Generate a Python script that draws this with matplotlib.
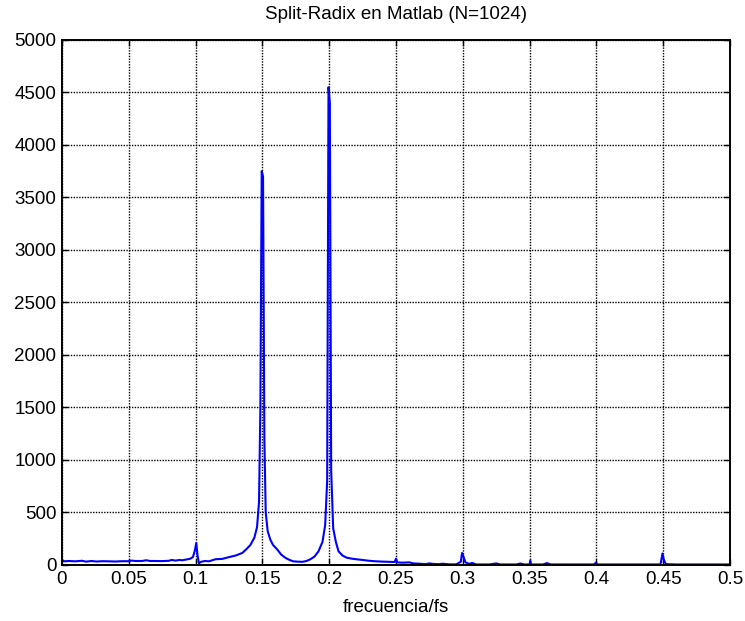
import matplotlib
matplotlib.use('Agg')
from matplotlib import pyplot as plt

# magnitude spectrum (frequency / fs, |X|)
freq = [0.000, 0.002, 0.005, 0.010, 0.015, 0.018, 0.022, 0.026, 0.030, 0.035,
        0.040, 0.045, 0.050, 0.052, 0.055, 0.060, 0.063, 0.066, 0.070, 0.075,
        0.080, 0.082, 0.085, 0.088, 0.090, 0.093, 0.096, 0.098, 0.0995, 0.1005,
        0.1015, 0.1025, 0.104, 0.107, 0.110, 0.115, 0.120, 0.125, 0.130, 0.135,
        0.138, 0.141, 0.144, 0.146, 0.1475, 0.1485, 0.1495, 0.1505, 0.1515, 0.1525,
        0.154, 0.156, 0.158, 0.161, 0.164, 0.167, 0.170, 0.173, 0.176, 0.180,
        0.183, 0.186, 0.189, 0.192, 0.195, 0.197, 0.1985, 0.1995, 0.2005, 0.2015,
        0.203, 0.205, 0.207, 0.210, 0.213, 0.217, 0.220, 0.225, 0.230, 0.235,
        0.240, 0.245, 0.249, 0.250, 0.251, 0.255, 0.260, 0.263, 0.268, 0.272,
        0.275, 0.278, 0.282, 0.285, 0.290, 0.295, 0.2985, 0.2995, 0.3005, 0.302,
        0.305, 0.307, 0.310, 0.320, 0.325, 0.328, 0.340, 0.343, 0.346, 0.350,
        0.3505, 0.351, 0.360, 0.363, 0.366, 0.380, 0.398, 0.3995, 0.401, 0.420,
        0.448, 0.4495, 0.4505, 0.452, 0.460, 0.500]
mag = [45, 35, 38, 35, 40, 32, 38, 33, 36, 35,
       33, 36, 36, 42, 38, 38, 45, 38, 38, 37,
       40, 48, 42, 48, 45, 52, 60, 75, 140, 210,
       90, 15, 30, 38, 35, 55, 58, 75, 90, 115,
       150, 190, 260, 360, 600, 1500, 3750, 3700, 1200, 500,
       320, 240, 190, 150, 100, 70, 50, 35, 32, 30,
       38, 55, 80, 130, 220, 380, 800, 4550, 4400, 900,
       350, 220, 130, 90, 70, 60, 55, 48, 40, 35,
       32, 30, 28, 60, 25, 22, 25, 15, 12, 8,
       15, 10, 8, 12, 6, 6, 30, 115, 80, 25,
       10, 20, 5, 5, 15, 5, 5, 14, 5, 5,
       40, 5, 5, 18, 5, 5, 5, 20, 5, 5,
       5, 110, 50, 8, 5, 5]

xticks = [0, 0.05, 0.1, 0.15, 0.2, 0.25, 0.3, 0.35, 0.4, 0.45, 0.5]
xticklabels = ['0', '0.05', '0.1', '0.15', '0.2', '0.25', '0.3', '0.35', '0.4', '0.45', '0.5']
yticks = [0, 500, 1000, 1500, 2000, 2500, 3000, 3500, 4000, 4500, 5000]

plt.rcParams['font.family'] = ['Liberation Sans', 'DejaVu Sans']

fig = plt.figure(figsize=(7.45, 6.21), dpi=100)
ax = fig.add_axes([0.0832, 0.0902, 0.8966, 0.8454])

ax.plot(freq, mag, color='#0000ff', linewidth=1.5)

ax.set_xlim(0, 0.5)
ax.set_ylim(0, 5000)
ax.set_xticks(xticks)
ax.set_xticklabels(xticklabels)
ax.set_yticks(yticks)
ax.grid(True, color='black', linestyle=(0, (1, 1)), linewidth=1.0)
ax.tick_params(direction='in', top=True, right=True, length=4, width=1.0,
               labelsize=13.5, pad=4)
for s in ax.spines.values():
    s.set_linewidth(1.4)

ax.set_xlabel('frecuencia/fs', fontsize=13.5, labelpad=8)
ax.set_title('Split-Radix en Matlab (N=1024)', fontsize=13.5, pad=15)

plt.savefig('out.png', dpi=100)
